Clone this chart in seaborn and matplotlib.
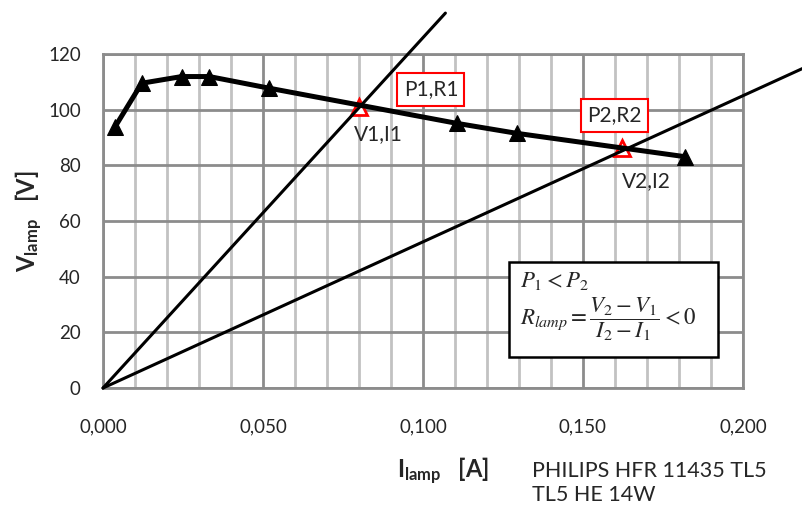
import numpy as np
import pandas as pd
import matplotlib
matplotlib.use("Agg")
import matplotlib.pyplot as plt
import seaborn as sns
from matplotlib.patches import Rectangle
from matplotlib.ticker import FixedLocator, MultipleLocator

# lamp characteristic (measured points)
i_lamp = [0.0038, 0.0121, 0.0246, 0.0332, 0.0520, 0.1105, 0.1293, 0.1819]
v_lamp = [93.9, 109.5, 111.9, 111.9, 107.7, 95.1, 91.5, 83.1]

# two operating points
i_op = [0.0801, 0.1621]
v_op = [101.1, 86.1]
op_names = ["V1,I1", "V2,I2"]
box_names = ["P1,R1", "P2,R2"]

# resistance lines from origin
r1_i = [0.0, 0.107]
r1_v = [0.0, 134.7]
r2_i = [0.0, 0.219]
r2_v = [0.0, 115.0]

x_ticks = [0.0, 0.05, 0.10, 0.15, 0.20]
x_tick_labels = ["0,000", "0,050", "0,100", "0,150", "0,200"]
y_ticks = [0, 20, 40, 60, 80, 100, 120]

sns.set_style("white")
plt.rcParams['font.family'] = ['Lato', 'DejaVu Sans']
plt.rcParams['mathtext.fontset'] = 'custom'
plt.rcParams['mathtext.rm'] = 'Lato'
plt.rcParams['mathtext.it'] = 'Lato:italic'
plt.rcParams['mathtext.bf'] = 'Lato:bold'

dark = '#8c8c8c'
light = '#c2c2c2'

fig = plt.figure(figsize=(8.03, 5.07), dpi=100)
ax = fig.add_axes([103 / 803, 1 - 388 / 507, 640 / 803, 334 / 507])

# resistance lines
sns.lineplot(x=r1_i, y=r1_v, color='black', lw=2.2, ax=ax, clip_on=False, zorder=3)
sns.lineplot(x=r2_i, y=r2_v, color='black', lw=2.2, ax=ax, clip_on=False, zorder=3)

# operating points (red triangles)
ax.plot(i_op, v_op, ls='none', marker='^', ms=12, mfc='white', mec='red',
        mew=2, zorder=2.8, clip_on=False)

# lamp curve
sns.lineplot(x=i_lamp, y=v_lamp, color='black', lw=3.6, marker='^', markersize=12,
             markeredgecolor='black', ax=ax, clip_on=False, zorder=4)

# labels
name_pos = [(0.0859, 91.4), (0.1699, 74.2)]
for (x, y), t in zip(name_pos, op_names):
    ax.text(x, y, t, ha='center', va='center', fontsize=15, zorder=5)
box_pos = [(0.1025, 107.3), (0.1599, 97.9)]
for (x, y), t in zip(box_pos, box_names):
    ax.text(x, y, t, ha='center', va='center', fontsize=15, zorder=5,
            bbox=dict(facecolor='white', edgecolor='red', lw=1.5,
                      boxstyle='square,pad=0.3'))

# formula box
ax.add_patch(Rectangle((0.127, 11.25), 0.0653, 33.95, facecolor='white',
                       edgecolor='black', lw=1.8, zorder=5))
ax.text(0.1303, 38.6, r"$P_1 < P_2$", ha='left', va='center', fontsize=16.5,
        math_fontfamily='stix', zorder=6)
ax.text(0.1303, 24.8, r"$R_{lamp} = \dfrac{V_2 - V_1}{I_2 - I_1} < 0$", ha='left',
        va='center', fontsize=16.5, math_fontfamily='stix', zorder=6)

# axes
ax.set_xlim(0, 0.2)
ax.set_ylim(0, 120)
ax.xaxis.set_major_locator(FixedLocator(x_ticks))
ax.set_xticklabels(x_tick_labels)
ax.xaxis.set_minor_locator(MultipleLocator(0.01))
ax.set_yticks(y_ticks)
ax.set_axisbelow(True)
ax.grid(which='minor', axis='x', color=light, lw=2)
ax.grid(which='major', axis='both', color=dark, lw=2)
ax.tick_params(which='minor', length=0)
ax.tick_params(which='major', length=7, width=2, color=dark, labelsize=13.5)
ax.tick_params(axis='x', pad=15)
ax.tick_params(axis='y', pad=9)
for s in ax.spines.values():
    s.set_color(dark)
    s.set_linewidth(2)

ax.set_ylabel(r"$\mathbf{V}_{\mathbf{lamp}}$   [V]", fontsize=17, fontweight='bold',
              va='center')
ax.yaxis.set_label_coords((29 - 103) / 640, 0.5)
ax.set_xlabel(r"$\mathbf{I}_{\mathbf{lamp}}$   [A]", fontsize=17, fontweight='bold',
              va='center')
ax.xaxis.set_label_coords((443 - 103) / 640, (388 - 471) / 334)

ax.text((532 - 103) / 640, (388 - 483) / 334, "PHILIPS HFR 11435 TL5\nTL5 HE 14W",
        transform=ax.transAxes, ha='left', va='center', fontsize=15.5,
        linespacing=1.3)

fig.savefig("out.png", dpi=100)
